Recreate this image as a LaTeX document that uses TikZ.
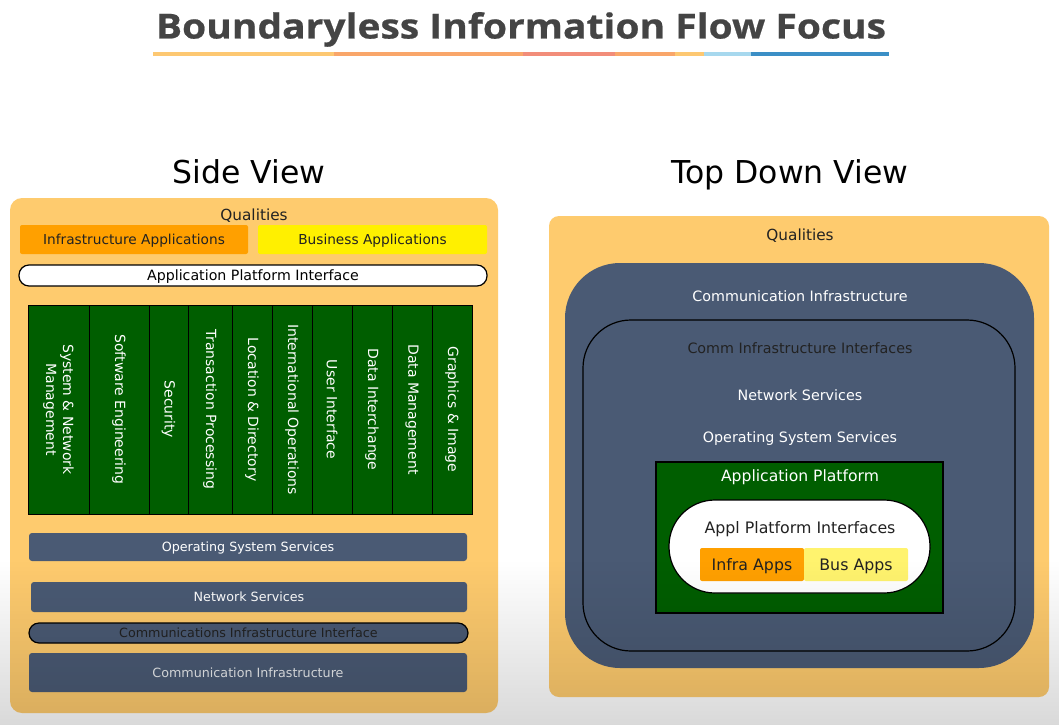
\documentclass[tikz,border=0pt]{standalone}
\usepackage{fontspec}
\setmainfont{DejaVu Sans}
\newfontfamily\headfont[FakeStretch=1.13, FakeBold=0.6]{Open Sans}
\usetikzlibrary{positioning, fadings}
\definecolor{qualorange}{HTML}{FECB6E}
\definecolor{infraorange}{HTML}{FFA000}
\definecolor{busyellow}{HTML}{FFF000}
\definecolor{busyellowlt}{HTML}{FFF36E}
\definecolor{slate}{HTML}{4A5A74}
\definecolor{platgreen}{HTML}{005E00}
\definecolor{titlegray}{HTML}{444444}
\definecolor{darktxt}{HTML}{222222}
\definecolor{barpeach}{HTML}{FDC872}
\definecolor{barorange}{HTML}{F9A66A}
\definecolor{barsalmon}{HTML}{F28D7A}
\definecolor{barsky}{HTML}{A7D8EE}
\definecolor{barblue}{HTML}{3B8FC6}

\begin{document}
\begin{tikzpicture}[x=1pt, y=-1pt,
  fs/.style={font=\fontsize{#1}{#1}\selectfont, text depth=0pt},
  panel/.style={fill=qualorange, rounded corners=12pt, inner sep=0pt},
  layer/.style={fill=slate, rounded corners=3pt, text=white, inner sep=0pt, fs=12.7},
  pill/.style={draw=black, line width=1.2pt, inner sep=0pt},
  appbox/.style={rounded corners=2pt, inner sep=0pt, text=darktxt},
  column/.style={draw=black, line width=1pt, fill=platgreen, text=white, rotate=-90,
    inner sep=0pt, minimum width=209, align=center, font=\fontsize{14}{17}\selectfont},
  lbl/.style={inner sep=0pt, text=#1},
  lbl/.default=white,
  viewtitle/.style={anchor=base, font=\fontsize{31.5}{32}\selectfont},
]
\useasboundingbox[fill=white] (0,0) rectangle (1059,725);

% title
\node[anchor=base, text=titlegray, font=\headfont\bfseries\fontsize{34.5}{36}\selectfont] (title) at (521,38.5) {Boundaryless Information Flow Focus};
\foreach \xa/\xb/\col in {153/334/barpeach, 334/523/barorange, 523/615/barsalmon, 615/675/barorange, 675/704/barpeach, 704/751/barsky, 751/889/barblue}
  \draw[line width=4pt, \col] (\xa,54.5) -- (\xb,54.5);

% side view
\node[viewtitle] (sidetitle) at (249,183) {Side View};
\node[panel, minimum width=488, minimum height=515] (sidepanel) at (254,455.5) {};
\node[lbl=darktxt, fs=15.3] (sidequal) at (254,215) {Qualities};
\node[appbox, fill=infraorange, minimum width=228, minimum height=29, fs=13.7] (infra) at (134,239.5) {Infrastructure Applications};
\node[appbox, fill=busyellow, minimum width=229, minimum height=29, fs=13.7] (bus) at (372.5,239.5) {Business Applications};
\node[pill, fill=white, rounded corners=10pt, minimum width=468, minimum height=21, fs=14.2] (api) at (253,275.5) {Application Platform Interface};

\foreach \xl/\xr/\txt [count=\i] in {28/89/{System \& Network\\Management}, 89/149/Software Engineering,
    149/188/Security, 188/232/Transaction Processing, 232/272/Location \& Directory,
    272/312/International Operations, 312/352/User Interface, 352/392/Data Interchange,
    392/432/Data Management, 432/472/Graphics \& Image}
  \node[column, minimum height=\xr-\xl] (col\i) at ({(\xl+\xr)/2},409.5) {\txt};

\node[layer, minimum width=438, minimum height=28] (sideos) at (248,547) {Operating System Services};
\node[layer, minimum width=436, minimum height=30] (sidenet) at (249,597) {Network Services};
\node[layer, pill, rounded corners=10pt, text=darktxt, minimum width=439, minimum height=20] (sidecii) at (248.5,633) {Communications Infrastructure Interface};
\node[layer, text=white!88!slate, minimum width=438, minimum height=39] (sideci) at (248,672.5) {Communication Infrastructure};

% top down view
\node[viewtitle] (toptitle) at (790,183) {Top Down View};
\node[panel, rounded corners=10pt, minimum width=500, minimum height=481] (toppanel) at (799,456.5) {};
\node[lbl=darktxt, fs=15.3] (topqual) at (800,235) {Qualities};
\node[fill=slate, rounded corners=55pt, inner sep=0pt, minimum width=469, minimum height=405] (commbox) at (799.5,465.5) {};
\node[lbl, fs=14.3] (topci) at (800,296) {Communication Infrastructure};
\node[pill, rounded corners=48pt, minimum width=432, minimum height=331] (ifbox) at (799,485.5) {};
\node[lbl=darktxt, fs=14.3] (topcii) at (800,348) {Comm Infrastructure Interfaces};
\node[lbl, fs=14.3] (topnet) at (800,395) {Network Services};
\node[lbl, fs=14.3] (topos) at (800,437) {Operating System Services};
\node[pill, fill=platgreen, minimum width=287, minimum height=151] (appplat) at (799.5,537.5) {};
\node[lbl, fs=15.6] (appplatlbl) at (800,476) {Application Platform};
\node[pill, fill=white, rounded corners=46pt, minimum width=261, minimum height=93] (apibox) at (799.5,546.5) {};
\node[lbl=darktxt, fs=15.8] (apilbl) at (800,527) {Appl Platform Interfaces};
\node[appbox, fill=infraorange, minimum width=104, minimum height=33, fs=15.8] (infraapps) at (752,564.5) {Infra Apps};
\node[appbox, fill=busyellowlt, minimum width=104, minimum height=33, fs=15.8] (busapps) at (856,564.5) {Bus Apps};

% screen shading at the bottom
\fill[black, path fading=north, fill opacity=0.15] (0,560) rectangle (1059,725);
\end{tikzpicture}
\end{document}
